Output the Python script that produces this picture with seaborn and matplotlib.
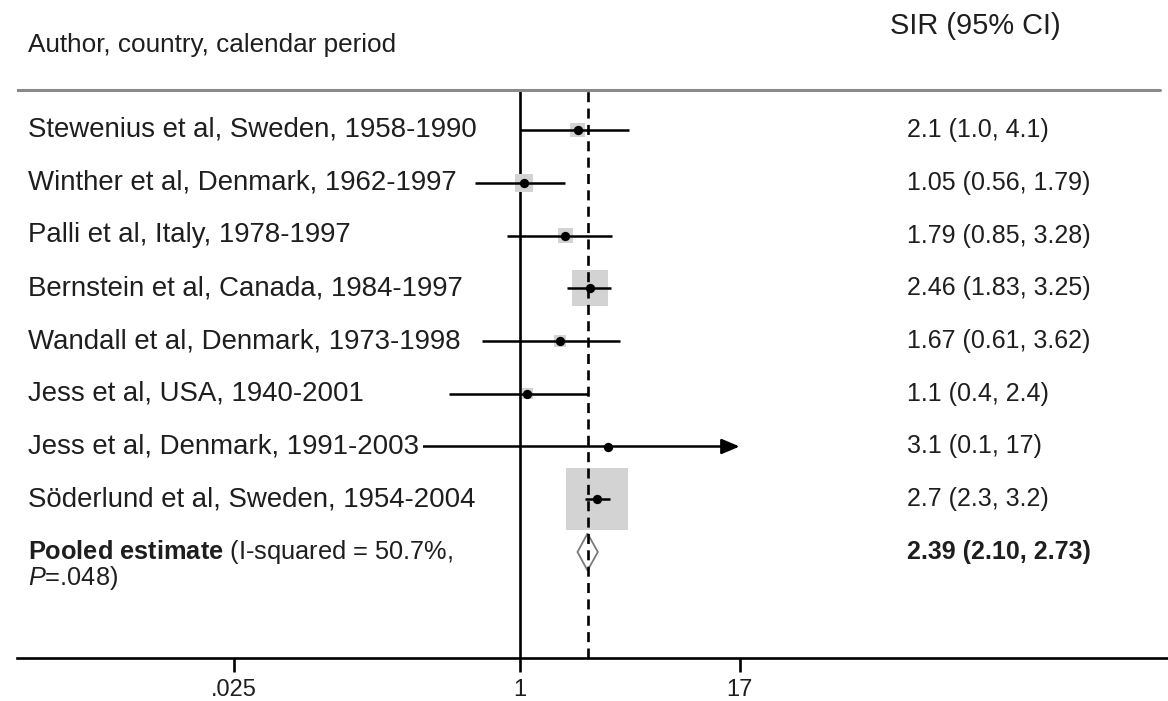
import numpy as np
import pandas as pd
import seaborn as sns
import matplotlib.pyplot as plt
from matplotlib.patches import Polygon
from matplotlib.transforms import blended_transform_factory

# ---- data -------------------------------------------------------------
studies = [
    "Stewenius et al, Sweden, 1958-1990",
    "Winther et al, Denmark, 1962-1997",
    "Palli et al, Italy, 1978-1997",
    "Bernstein et al, Canada, 1984-1997",
    "Wandall et al, Denmark, 1973-1998",
    "Jess et al, USA, 1940-2001",
    "Jess et al, Denmark, 1991-2003",
    "Söderlund et al, Sweden, 1954-2004",
]
sir = [2.1, 1.05, 1.79, 2.46, 1.67, 1.1, 3.1, 2.7]
ci_low = [1.0, 0.56, 0.85, 1.83, 0.61, 0.4, 0.1, 2.3]
ci_high = [4.1, 1.79, 3.28, 3.25, 3.62, 2.4, 17, 3.2]
ci_text = [
    "2.1 (1.0, 4.1)",
    "1.05 (0.56, 1.79)",
    "1.79 (0.85, 3.28)",
    "2.46 (1.83, 3.25)",
    "1.67 (0.61, 3.62)",
    "1.1 (0.4, 2.4)",
    "3.1 (0.1, 17)",
    "2.7 (2.3, 3.2)",
]
weight_pct = [3.4, 5.1, 3.7, 20.7, 2.2, 2.1, 0.3, 62.5]

pooled_sir = 2.39
pooled_low = 2.10
pooled_high = 2.73
pooled_text = "2.39 (2.10, 2.73)"
i_squared = "50.7%"
p_value = ".048"

tick_values = [0.025, 1, 17]
tick_labels = [".025", "1", "17"]

# ---- style ------------------------------------------------------------
sns.set_style("white")
plt.rcParams["font.family"] = ["Liberation Sans", "DejaVu Sans"]
plt.rcParams["mathtext.fontset"] = "custom"
plt.rcParams["mathtext.rm"] = "Liberation Sans"
plt.rcParams["mathtext.it"] = "Liberation Sans:italic"
plt.rcParams["mathtext.bf"] = "Liberation Sans:bold"

TEXT = "#1e1e1e"
SQUARE = "#d3d3d3"

W, H = 1168, 701
fig = plt.figure(figsize=(W / 100, H / 100), dpi=100)
ax = fig.add_axes([17 / W, 43 / H, 1 - 17 / W, 658 / H])

n = len(studies)
rows = np.arange(n)
pooled_row = n

df = pd.DataFrame({"study": studies, "sir": sir, "low": ci_low,
                   "high": ci_high, "weight": weight_pct, "row": rows})

# log scale: ~77.5 px per e-fold, SIR = 1 sits 503 px into the axes
px_per_ln = 77.5
ax.set_xscale("log")
ax.set_xlim(np.exp(-503 / px_per_ln), np.exp((1151 - 503) / px_per_ln))
row_px0, row_step = 130, 52.75
ax.set_ylim((658 - row_px0) / row_step, -row_px0 / row_step)

header_line = (89.5 - row_px0) / row_step
frac_top = (658 - 91) / 658

# weight squares (area proportional to weight)
sns.scatterplot(data=df, x="sir", y="row", size="weight", sizes=(0, 3194),
                size_norm=(0, 100), marker="s", color=SQUARE, linewidth=0,
                legend=False, ax=ax, zorder=2)

# confidence intervals; an arrow marks an interval running off the scale
arrow_rows = df[df["high"] >= tick_values[-1]]
plain = df[df["high"] < tick_values[-1]]
ax.hlines(plain["row"], plain["low"], plain["high"], color="black",
          lw=1.8, zorder=3)
for _, r in arrow_rows.iterrows():
    ax.annotate("", xy=(r["high"], r["row"]), xytext=(r["low"], r["row"]),
                arrowprops=dict(arrowstyle="-|>,head_length=0.4,head_width=0.17",
                                mutation_scale=27, color="black", lw=1.8,
                                shrinkA=0, shrinkB=0), zorder=3)

# point estimates
sns.scatterplot(data=df, x="sir", y="row", marker="o", color="black",
                s=45, linewidth=0, legend=False, ax=ax, zorder=4)

# reference lines
ax.axvline(1, ymin=0, ymax=frac_top, color="black", lw=1.9, zorder=1)
ax.axvline(pooled_sir, ymin=0, ymax=frac_top, color="black", lw=1.9,
           linestyle=(0, (3.8, 2.4)), zorder=5)
ax.axhline(header_line, xmin=0, xmax=(1160 - 17) / 1151, color="#8a8a8a",
           lw=2.2, zorder=1)

# pooled diamond
half_h = 18.5 / row_step
diamond = Polygon([(pooled_low, pooled_row), (pooled_sir, pooled_row - half_h),
                   (pooled_high, pooled_row), (pooled_sir, pooled_row + half_h)],
                  closed=True, fill=False, edgecolor="#7a7a7a", lw=1.3, zorder=4)
ax.add_patch(diamond)

# text columns
left_x = (28 - 17) / 1151
right_x = (907 - 17) / 1151
tr = blended_transform_factory(ax.transAxes, ax.transData)

ax.text(left_x, (45 - row_px0) / row_step, "Author, country, calendar period",
        transform=tr, ha="left", va="center", fontsize=18.8, color=TEXT)
ax.text((890 - 17) / 1151, (26 - row_px0) / row_step, "SIR (95% CI)",
        transform=tr, ha="left", va="center", fontsize=20.9, color=TEXT)

label_box = dict(facecolor="white", edgecolor="none", pad=3)
for i in range(n):
    ax.text(left_x, rows[i], studies[i], transform=tr, ha="left",
            va="center", fontsize=19.9, color=TEXT, bbox=label_box, zorder=6)
    ax.text(right_x, rows[i], ci_text[i], transform=tr, ha="left",
            va="center", fontsize=18, color=TEXT)

ax.text(left_x, pooled_row,
        r"$\mathbf{Pooled\ estimate}$" + f" (I-squared = {i_squared},",
        transform=tr, ha="left", va="center", fontsize=18.3, color=TEXT)
ax.text(left_x, pooled_row + 26 / row_step, r"$\it{P}$" + f"={p_value})",
        transform=tr, ha="left", va="center", fontsize=18.3, color=TEXT)
ax.text(right_x, pooled_row, pooled_text, transform=tr, ha="left",
        va="center", fontsize=18, fontweight="bold", color=TEXT)

# axis styling
for side in ["top", "right", "left"]:
    ax.spines[side].set_visible(False)
ax.spines["bottom"].set_linewidth(1.9)
ax.spines["bottom"].set_color("black")
ax.set_xticks(tick_values)
ax.set_xticklabels(tick_labels)
ax.xaxis.set_minor_locator(plt.NullLocator())
ax.tick_params(axis="x", direction="out", length=10, width=1.9,
               labelsize=17, pad=5, colors="black", labelcolor=TEXT,
               bottom=True)
ax.set_yticks([])
ax.set_xlabel("")
ax.set_ylabel("")
ax.set_facecolor("white")
ax.grid(False)

fig.savefig("out.png", dpi=100, facecolor="white")
